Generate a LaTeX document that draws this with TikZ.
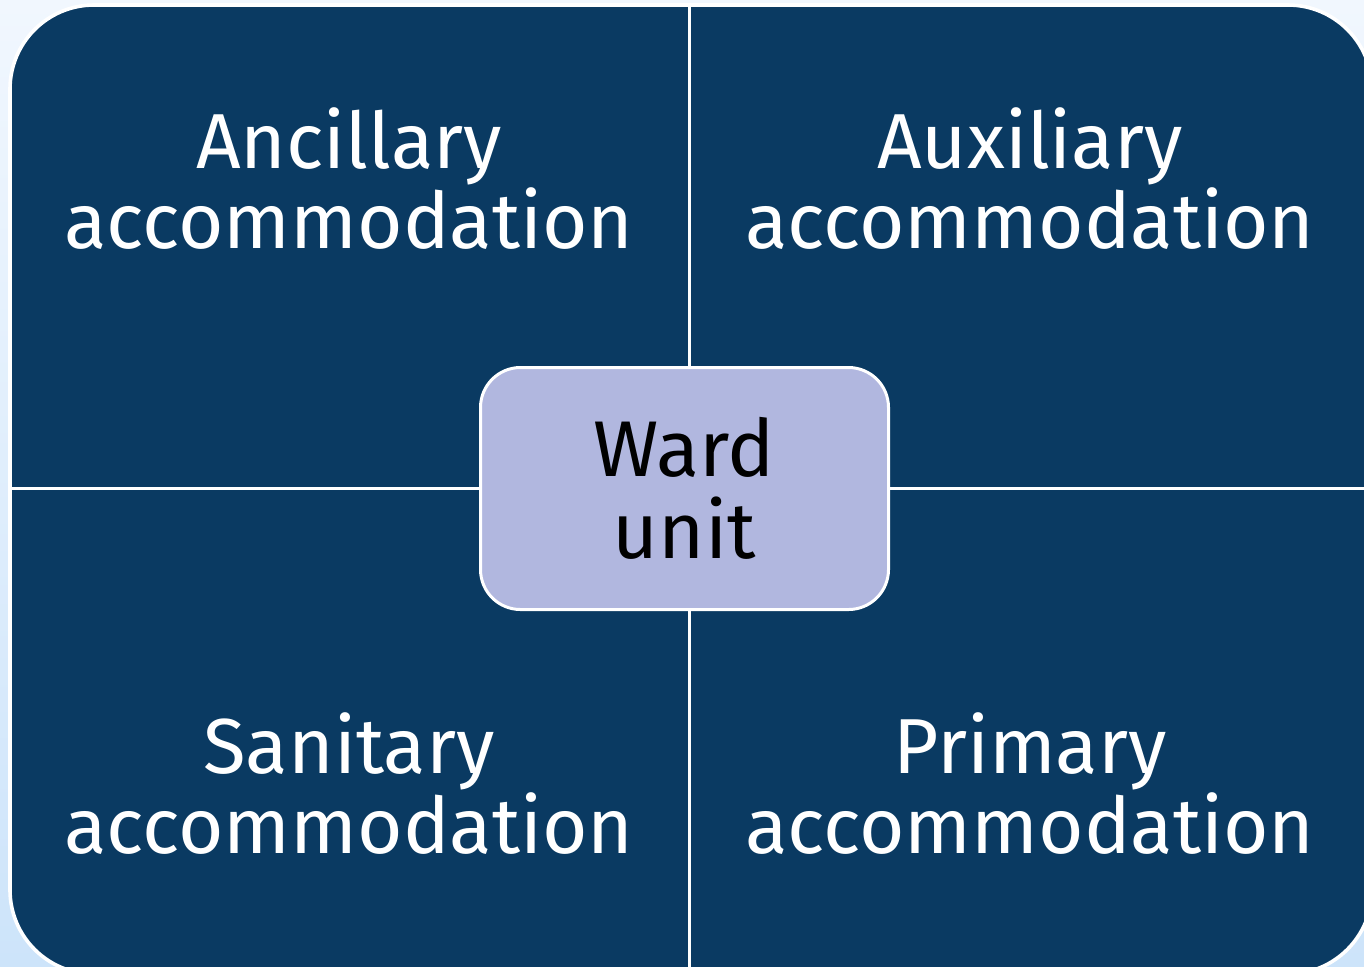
\documentclass[tikz,border=0pt]{standalone}
\usepackage{fontspec}
\setmainfont{Fira Sans}
\definecolor{cellblue}{HTML}{0A3A62}
\definecolor{hubfill}{HTML}{B1B7DF}
\definecolor{bgtop}{HTML}{F1F7FE}
\definecolor{bgbottom}{HTML}{CDE4FA}
\tikzset{
  celltext/.style={text=white, align=center, font=\fontsize{39}{40}\selectfont},
  hub/.style={draw=white, line width=1.5pt, fill=hubfill, rounded corners=20pt,
    minimum width=204pt, minimum height=121pt, align=center,
    font=\fontsize{39.5}{41}\selectfont},
}

\begin{document}
\begin{tikzpicture}[x=0.5pt, y=-0.5pt]
      \useasboundingbox (0,0) rectangle (1364,966);
      \clip (0,0) rectangle (1364,966);
      \shade[top color=bgtop, bottom color=bgbottom] (0,0) rectangle (1364,966);
      \fill[cellblue, draw=white, line width=1.8pt, rounded corners=42pt]
        (10,5) rectangle (1372,974);
      \coordinate (top) at (689,5);
      \coordinate (bottom) at (689,974);
      \coordinate (left) at (10,488);
      \coordinate (right) at (1372,488);
      \draw[white, line width=1.5pt] (top) -- (bottom);
      \draw[white, line width=1.5pt] (left) -- (right);
      \node[celltext] (ancillary) at (349,179) {Ancillary\\accommodation};
      \node[celltext] (auxiliary) at (1030,179) {Auxiliary\\accommodation};
      \node[celltext] (sanitary) at (349,784) {Sanitary\\accommodation};
      \node[celltext] (primary) at (1030,784) {Primary\\accommodation};
      \node[hub] (ward) at (684.5,488.5) {Ward\\unit};
    \end{tikzpicture}
\end{document}
